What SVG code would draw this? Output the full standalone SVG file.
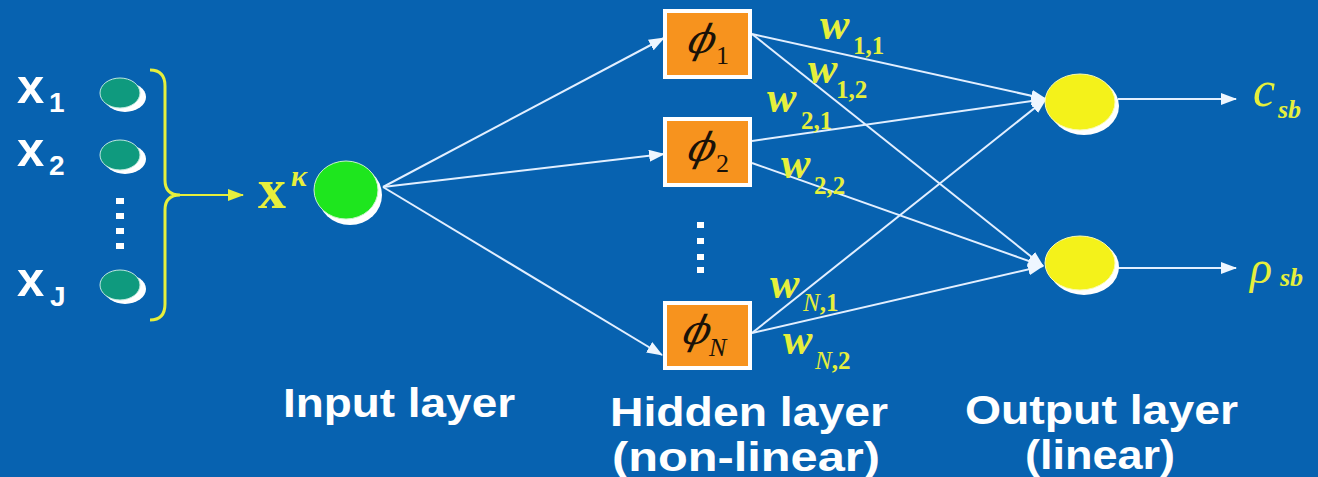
<svg xmlns="http://www.w3.org/2000/svg" width="1318" height="477" viewBox="0 0 1318 477">
  <defs>
    <marker id="headW" markerUnits="userSpaceOnUse" markerWidth="16" markerHeight="12" refX="15" refY="6" orient="auto">
      <path d="M0,0 L16,6 L0,12 Z" fill="#eef6ff"/>
    </marker>
    <marker id="headY" markerUnits="userSpaceOnUse" markerWidth="16" markerHeight="12" refX="15" refY="6" orient="auto">
      <path d="M0,0 L16,6 L0,12 Z" fill="#e6ef3c"/>
    </marker>
  </defs>
  <style>
    .lbl { font-family: "Liberation Sans", Arial, sans-serif; font-weight: bold; fill: #ffffff; }
    .in { font-family: "Liberation Sans", Arial, sans-serif; font-weight: bold; fill: #ffffff; }
    .math { font-family: "Liberation Serif", "Times New Roman", "DejaVu Serif", serif; fill: #e6ef3c; }
    .w { font-style: italic; font-weight: bold; font-size: 44px; }
    .sub { font-weight: bold; font-size: 25px; }
    .phi { font-family: "DejaVu Serif", "Liberation Serif", serif; font-style: italic; fill: #1a1208; }
    .idx { font-family: "Liberation Serif", "Times New Roman", serif; fill: #1a1208; }
    .box { fill: #f7931e; stroke: #ffffff; stroke-width: 4; }
    .link { stroke: #e2efff; stroke-width: 2; fill: none; marker-end: url(#headW); }
    .dot { fill: #ffffff; }
  </style>

  <rect x="0" y="0" width="1318" height="477" fill="#0762b0"/>

  <!-- connectors -->
  <g id="connectors">
    <path d="M172,195 L243,195" stroke="#e6ef3c" stroke-width="2" fill="none" marker-end="url(#headY)"/>
    <path class="link" d="M383,187 L664,38"/>
    <path class="link" d="M383,187 L664,154"/>
    <path class="link" d="M383,187 L662,355"/>
    <path class="link" d="M752,34 L1046,99"/>
    <path class="link" d="M752,34 L1043,266"/>
    <path class="link" d="M752,141 L1046,99"/>
    <path class="link" d="M752,163 L1043,266"/>
    <path class="link" d="M752,333 L1046,99"/>
    <path class="link" d="M752,333 L1043,266"/>
    <path class="link" d="M1118,99 L1236,99"/>
    <path class="link" d="M1118,268 L1236,268"/>
  </g>

  <!-- input units -->
  <g id="input-x1">
    <text class="in" x="17" y="103" font-size="49">x</text>
    <text class="in" x="49" y="112" font-size="28">1</text>
    <ellipse cx="125" cy="97" rx="21" ry="15" fill="#ffffff"/>
    <ellipse cx="120" cy="93" rx="20" ry="15" fill="#0f9a7e" stroke="#bfe9df" stroke-width="1"/>
  </g>
  <g id="input-x2">
    <text class="in" x="17" y="166" font-size="49">x</text>
    <text class="in" x="49" y="175" font-size="28">2</text>
    <ellipse cx="125" cy="159" rx="21" ry="15" fill="#ffffff"/>
    <ellipse cx="120" cy="155" rx="20" ry="15" fill="#0f9a7e" stroke="#bfe9df" stroke-width="1"/>
  </g>
  <g id="input-dots">
    <rect class="dot" x="116" y="198" width="8" height="6"/>
    <rect class="dot" x="116" y="213" width="8" height="6"/>
    <rect class="dot" x="116" y="228" width="8" height="6"/>
    <rect class="dot" x="116" y="243" width="8" height="6"/>
  </g>
  <g id="input-xJ">
    <text class="in" x="17" y="296" font-size="49">x</text>
    <text class="in" x="50" y="306" font-size="28">J</text>
    <ellipse cx="125" cy="289" rx="21" ry="15" fill="#ffffff"/>
    <ellipse cx="120" cy="285" rx="20" ry="15" fill="#0f9a7e" stroke="#bfe9df" stroke-width="1"/>
  </g>

  <!-- brace gathering the inputs -->
  <g id="brace">
    <path d="M150,70 Q165,70 165,86 L165,180 Q165,195 180,195 Q165,195 165,210 L165,304 Q165,320 150,320" stroke="#e6ef3c" stroke-width="3" fill="none"/>
  </g>

  <!-- input layer node -->
  <g id="input-node">
    <text class="math" x="258" y="208" font-size="56" font-weight="bold">x</text>
    <text class="math" x="291" y="186" font-size="30" font-style="italic" font-weight="bold">κ</text>
    <ellipse cx="350" cy="195" rx="32" ry="30" fill="#ffffff"/>
    <ellipse cx="346" cy="190" rx="32" ry="29" fill="#1ee61e" stroke="#c8f5c8" stroke-width="1"/>
  </g>

  <!-- hidden layer (phi slanted as in math italic) -->
  <g id="hidden-1">
    <rect class="box" x="665" y="11" width="85" height="66"/>
    <text class="phi" transform="translate(686,53) skewX(-14)" font-size="40">ϕ</text>
    <text class="idx" x="716" y="64" font-size="26">1</text>
  </g>
  <g id="hidden-2">
    <rect class="box" x="665" y="119" width="85" height="66"/>
    <text class="phi" transform="translate(686,161) skewX(-14)" font-size="40">ϕ</text>
    <text class="idx" x="716" y="172" font-size="26">2</text>
  </g>
  <g id="hidden-dots">
    <rect class="dot" x="697" y="222" width="7" height="6"/>
    <rect class="dot" x="697" y="238" width="7" height="6"/>
    <rect class="dot" x="697" y="254" width="7" height="6"/>
    <rect class="dot" x="697" y="267" width="7" height="6"/>
  </g>
  <g id="hidden-N">
    <rect class="box" x="665" y="303" width="85" height="65"/>
    <text class="phi" transform="translate(681,344) skewX(-14)" font-size="40">ϕ</text>
    <text class="idx" x="709" y="356" font-size="26" font-style="italic">N</text>
  </g>

  <!-- weight labels -->
  <g id="weights" class="math">
    <text class="w" x="820" y="39">w</text><text class="sub" x="853" y="54">1,1</text>
    <text class="w" x="808" y="83">w</text><text class="sub" x="836" y="98">1,2</text>
    <text class="w" x="767" y="112">w</text><text class="sub" x="801" y="129">2,1</text>
    <text class="w" x="781" y="178">w</text><text class="sub" x="814" y="194">2,2</text>
    <text class="w" x="770" y="298">w</text><text class="sub" x="803" y="311"><tspan font-style="italic" font-weight="normal">N</tspan>,1</text>
    <text class="w" x="783" y="354">w</text><text class="sub" x="815" y="369"><tspan font-style="italic" font-weight="normal">N</tspan>,2</text>
  </g>

  <!-- output layer -->
  <g id="output-c">
    <ellipse cx="1084" cy="106" rx="35" ry="29" fill="#ffffff"/>
    <ellipse cx="1080" cy="102" rx="35" ry="28" fill="#f4f21a" stroke="#fbfbb0" stroke-width="1"/>
    <text class="math" x="1253" y="106" font-size="50" font-style="italic">c</text>
    <text class="math" x="1278" y="118" font-size="26" font-style="italic" font-weight="bold">sb</text>
  </g>
  <g id="output-rho">
    <ellipse cx="1084" cy="267" rx="35" ry="28" fill="#ffffff"/>
    <ellipse cx="1080" cy="263" rx="35" ry="27" fill="#f4f21a" stroke="#fbfbb0" stroke-width="1"/>
    <text class="math" x="1250" y="283" font-size="46" font-style="italic">ρ</text>
    <text class="math" x="1280" y="286" font-size="26" font-style="italic" font-weight="bold">sb</text>
  </g>

  <!-- layer captions -->
  <g id="captions" class="lbl" font-size="40">
    <text x="283" y="417" textLength="232" lengthAdjust="spacingAndGlyphs">Input layer</text>
    <text x="610" y="426" textLength="278" lengthAdjust="spacingAndGlyphs">Hidden layer</text>
    <text x="612" y="471" textLength="268" lengthAdjust="spacingAndGlyphs">(non-linear)</text>
    <text x="965" y="424" textLength="273" lengthAdjust="spacingAndGlyphs">Output layer</text>
    <text x="1025" y="469" textLength="150" lengthAdjust="spacingAndGlyphs">(linear)</text>
  </g>
</svg>
